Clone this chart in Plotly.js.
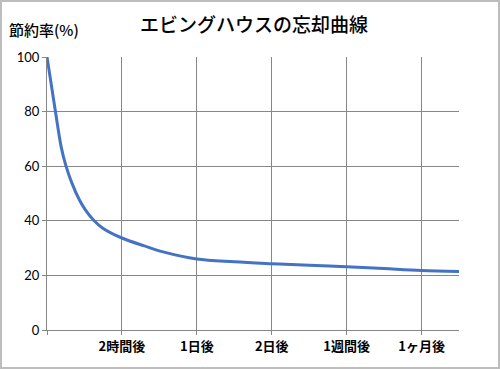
<!DOCTYPE html>
<html>
<head>
<meta charset="utf-8">
<script src="https://cdn.plot.ly/plotly-3.0.1.min.js"></script>
<style>
  html, body { margin: 0; padding: 0; background: #fff; }
  #wrap { position: relative; width: 500px; height: 369px; }
  #chart { width: 500px; height: 369px; }
  #frame { position: absolute; left: 0; top: 0; width: 500px; height: 369px; box-sizing: border-box; border: 2px solid #bdbdbd; pointer-events: none; }
</style>
</head>
<body>
<div id="wrap"><div id="chart"></div><div id="frame"></div></div>
<script>
// Elapsed position along the category axis (1 = 2時間後, 2 = 1日後, ...)
const elapsed = [0, 0.11, 0.19, 0.25, 0.33, 0.43, 0.51, 0.62, 0.75, 1.0, 1.3, 1.55, 2.0, 2.5, 3.0, 3.5, 4.0, 4.5, 5.0, 5.5];
// Savings rate (%)
const savings = [100, 80.5, 67.0, 60.4, 54.0, 47.8, 44.1, 40.3, 37.2, 33.7, 30.8, 28.6, 26.0, 25.0, 24.3, 23.7, 23.2, 22.5, 21.8, 21.4];
const tickPos = [0, 1, 2, 3, 4, 5];
const tickLabels = ['', '2時間後', '1日後', '2日後', '1週間後', '1ヶ月後'];
const yTicks = [0, 20, 40, 60, 80, 100];

const grid = '#878787';
const trace = {
  x: elapsed, y: savings, type: 'scatter', mode: 'lines',
  line: { color: '#4472C4', width: 3, shape: 'spline', smoothing: 1 },
  hoverinfo: 'skip'
};
const layout = {
  width: 500, height: 369,
  margin: { l: 47, r: 41, t: 57, b: 39, pad: 0 },
  paper_bgcolor: '#fff', plot_bgcolor: '#fff',
  showlegend: false,
  title: { text: 'エビングハウスの忘却曲線', x: 0.508, xanchor: 'center', y: 0.93, yanchor: 'middle', yref: 'container',
           font: { family: 'Noto Sans CJK JP', size: 19, color: '#000', weight: 500 } },
  xaxis: {
    range: [0, 5.5], tickmode: 'array', tickvals: tickPos, ticktext: tickLabels,
    showgrid: true, gridcolor: grid, gridwidth: 1, zeroline: false,
    showline: true, linecolor: grid, linewidth: 1,
    ticks: 'outside', ticklen: 4, tickcolor: grid,
    tickfont: { family: 'Noto Sans CJK JP', size: 13, color: '#000', weight: 'bold' },
    fixedrange: true
  },
  yaxis: {
    range: [0, 100], tickmode: 'array', tickvals: yTicks,
    showgrid: true, gridcolor: grid, gridwidth: 1, zeroline: false,
    showline: true, linecolor: grid, linewidth: 1,
    ticks: 'outside', ticklen: 4, tickcolor: grid,
    tickfont: { family: 'Lato, Open Sans, sans-serif', size: 13, color: '#000' },
    fixedrange: true
  },
  annotations: [{
    text: '節約率(%)', xref: 'paper', yref: 'paper', x: -0.097, y: 1.1, xanchor: 'left', yanchor: 'middle',
    showarrow: false, font: { family: 'Noto Sans CJK JP', size: 15, color: '#000', weight: 500 }
  }]
};
Plotly.newPlot('chart', [trace], layout, { displayModeBar: false, staticPlot: true });
</script>
</body>
</html>
